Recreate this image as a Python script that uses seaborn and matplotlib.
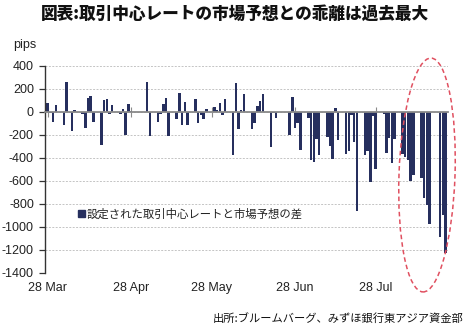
import numpy as np
import pandas as pd
import matplotlib
matplotlib.use("Agg")
import matplotlib.pyplot as plt
import seaborn as sns
from matplotlib.patches import Ellipse, Patch
from matplotlib.transforms import IdentityTransform

# ---------------- data ----------------
start_date = "2023-03-28"
end_date = "2023-08-23"
closed_days = ["2023-04-05", "2023-05-01", "2023-05-02", "2023-05-03",
               "2023-06-22", "2023-06-23", "2023-08-18"]
# deviation of the fixing from the market estimate (pips), one per trading day
dev_mar = [80, -10, -87, 58]
dev_apr = [-110, 265, -169, 20,
           -20, -138, 123, 140, -87,
           -290, 106, 113, -18, 62,
           -15, 29, -202, 71, 8]
dev_may = [262, -212,
           -87, -22, 70, 122, -210,
           -58, 167, -116, 90, -111,
           109, -96, -30, -62, 28,
           44, 16, 79]
dev_jun = [-30, 116,
           -372, 249, -145, 15, 154,
           -148, -99, 52, 93, 160,
           -305, -12, -51,
           -198, 128, -140, -93, -334]
dev_jul = [-50, -415, -432, -240, -371,
           -217, -298, -413, 32, -245,
           -370, -342, -25, -262, -866,
           -371, -342, -610, -37, -494,
           -20]
dev_aug = [-354, -226, -441, -238,
           -363, -392, -421, -604, -552,
           -575, -750, -808, -980,
           -1085, -900, -1230]
tick_dates = ["2023-03-28", "2023-04-28", "2023-05-28", "2023-06-28", "2023-07-28"]
tick_labels = ["28 Mar", "28 Apr", "28 May", "28 Jun", "28 Jul"]
y_ticks = list(range(-1400, 401, 200))

title = "図表:取引中心レートの市場予想との乖離は過去最大"
series_name = "設定された取引中心レートと市場予想の差"
source = "出所:ブルームバーグ、みずほ銀行東アジア資金部"

# ---------------- build table ----------------
days = pd.bdate_range(start_date, end_date, freq="C", holidays=closed_days)
values = dev_mar + dev_apr + dev_may + dev_jun + dev_jul + dev_aug
t0 = pd.Timestamp(start_date)
df = pd.DataFrame({"day": (days - t0).days, "pips": values})
tick_pos = [(pd.Timestamp(d) - t0).days for d in tick_dates]

# ---------------- plot ----------------
sns.set_theme(style="white")
plt.rcParams["font.family"] = ["Liberation Sans", "Noto Sans CJK JP", "DejaVu Sans"]
plt.rcParams["axes.unicode_minus"] = False

W, H = 465, 329
fig = plt.figure(figsize=(W / 100, H / 100), dpi=100)
ax = fig.add_axes([45 / W, 1 - 272.7 / H, (448 - 45) / W, (272.7 - 66) / H])

navy = "#262f5e"
sns.barplot(data=df, x="day", y="pips", native_scale=True, orient="x",
            color=navy, width=0.92, saturation=1, linewidth=0,
            ax=ax, zorder=2)

ax.set_xlim(-1.0, 148.9)
ax.set_ylim(-1400, 400)
ax.set_yticks(y_ticks)
ax.set_yticklabels([str(v) for v in y_ticks])
ax.set_xlabel("")
ax.set_ylabel("")

ax.set_axisbelow(True)
ax.yaxis.grid(True, linestyle=(0, (2, 1.5)), color="#c4c4c4", linewidth=0.7)
ax.xaxis.grid(False)

for s in ["top", "right"]:
    ax.spines[s].set_visible(False)
ax.spines["left"].set_color("#333333")
ax.spines["left"].set_linewidth(1.0)
ax.spines["bottom"].set_position(("data", 0))
ax.spines["bottom"].set_color("#8a8a8a")
ax.spines["bottom"].set_linewidth(1.3)
ax.spines["bottom"].set_zorder(5)

ax.tick_params(axis="y", direction="out", length=4, width=0.9, color="#333333",
               pad=4, labelsize=9, labelcolor="#222222", left=True)
ax.set_xticks(tick_pos)
ax.tick_params(axis="x", direction="inout", length=7, width=0.8, color="#8a8a8a",
               labelbottom=False, bottom=True)

sec = ax.secondary_xaxis(0.0)
sec.set_xticks(tick_pos)
sec.set_xticklabels(tick_labels)
sec.tick_params(axis="x", length=0, pad=7, labelsize=9, labelcolor="#222222")
sec.spines["bottom"].set_visible(False)

# legend
handle = Patch(facecolor=navy, edgecolor=navy)
leg = ax.legend([handle], [series_name], loc="center left",
                bbox_to_anchor=(78 / W, 1 - 214 / H), bbox_transform=fig.transFigure,
                frameon=False, handlelength=0.6, handleheight=0.6,
                handletextpad=0.15, borderpad=0, borderaxespad=0,
                prop={"family": ["Noto Sans CJK JP"], "size": 8.2})
for t in leg.get_texts():
    t.set_color("#222222")

# texts
fig.text(235 / W, 1 - 14 / H, title, ha="center", va="center",
         fontsize=12.0, fontweight="heavy", family=["Noto Sans CJK JP"], color="#111111")
fig.text(13 / W, 1 - 45 / H, "pips", ha="left", va="center", fontsize=9,
         color="#222222")
fig.text(463 / W, 1 - 318 / H, source, ha="right", va="center", fontsize=8.1,
         family=["Noto Sans CJK JP"], color="#111111")

# highlight ellipse (annotation)
ell = Ellipse((427, H - 175), 56, 234, angle=-2, transform=IdentityTransform(),
              fill=False, edgecolor="#e05060", linewidth=1.1,
              linestyle=(0, (3, 2)), zorder=10)
fig.patches.append(ell)

fig.savefig("out.png", dpi=100, facecolor="white")
